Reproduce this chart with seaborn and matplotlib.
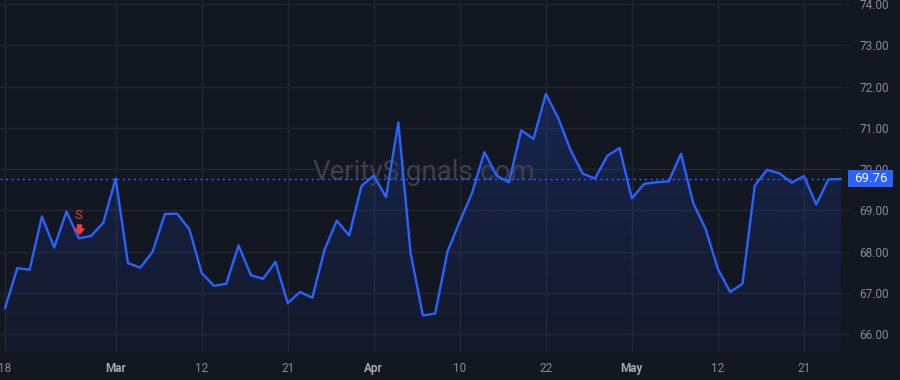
import numpy as np
import pandas as pd
import matplotlib
matplotlib.use("Agg")
import matplotlib.pyplot as plt
import seaborn as sns
from matplotlib.colors import to_rgb
from matplotlib.patches import Polygon, Rectangle
from matplotlib.path import Path
from matplotlib.transforms import blended_transform_factory, offset_copy

# trading days (NYSE, Good Friday and Memorial Day closed)
dates = pd.bdate_range("2025-02-18", "2025-05-27", freq="C",
                       holidays=["2025-04-18", "2025-05-26"])

close = [66.63, 67.60, 67.56, 68.85, 68.10, 68.97, 68.32, 68.38, 68.70, 69.77,
         67.72, 67.61, 67.99, 68.91, 68.92, 68.54, 67.48, 67.17, 67.22, 68.15,
         67.43, 67.34, 67.75, 66.75, 67.02, 66.88, 68.05, 68.75, 68.39, 69.59,
         69.84, 69.32, 71.13, 67.96, 66.45, 66.50, 68.00, 68.73, 69.42, 70.41,
         69.84, 69.68, 70.94, 70.73, 71.82, 71.24, 70.47, 69.89, 69.77, 70.32,
         70.51, 69.29, 69.64, 69.68, 69.70, 70.37, 69.17, 68.55, 67.58, 67.02,
         67.22, 69.60, 69.98, 69.90, 69.67, 69.83, 69.14, 69.75, 69.76]

tick_dates = pd.to_datetime(["2025-02-18", "2025-03-03", "2025-03-12", "2025-03-21",
                             "2025-04-01", "2025-04-10", "2025-04-22", "2025-05-01",
                             "2025-05-12", "2025-05-21"])
month_ticks = ["2025-03-03", "2025-04-01", "2025-05-01"]
y_ticks = [66, 67, 68, 69, 70, 71, 72, 73, 74]

signal_date = pd.Timestamp("2025-02-26")
signal_label = "S"
watermark = "VeritySignals.com"

df = pd.DataFrame({"date": dates, "close": close})
df["pos"] = np.arange(len(df))

bg = "#131722"
grid_c = "#232733"
line_c = "#2962ff"
red = "#f23645"

sns.set_theme(style="dark", rc={"axes.facecolor": bg, "figure.facecolor": bg})
plt.rcParams["font.family"] = ["Roboto", "DejaVu Sans"]

fig = plt.figure(figsize=(9, 3.8), dpi=100)
ax = fig.add_axes([0, 28 / 380, 843 / 900, 352 / 380])
ax.set_facecolor(bg)

ymin, ymax = 65.566, 74.097

# gradient area under the line
verts = [(df["pos"].iloc[0], ymin)] + list(zip(df["pos"], df["close"])) + [(df["pos"].iloc[-1], ymin)]
poly = Polygon(verts, closed=True, facecolor="none", edgecolor="none")
ax.add_patch(poly)
rgba = np.zeros((256, 1, 4))
rgba[..., :3] = to_rgb(line_c)
rgba[..., 3] = np.linspace(0.03, 0.21, 256)[:, None]
im = ax.imshow(rgba, extent=[df["pos"].iloc[0], df["pos"].iloc[-1], ymin, df["close"].max()],
               origin="lower", aspect="auto", zorder=1, interpolation="bilinear")
im.set_clip_path(poly)

ax.text(0.503, 0.511, watermark, transform=ax.transAxes, ha="center", va="center",
        fontsize=20, color="#3d404b", zorder=1.5)

sns.lineplot(data=df, x="pos", y="close", color=line_c, linewidth=1.7, ax=ax, zorder=3)

last = close[-1]
ax.axhline(last, color=line_c, linewidth=1, linestyle=(0, (1.5, 2.5)), zorder=2)

# signal marker: down arrow + letter above the bar
sp = df.loc[df["date"] == signal_date, "pos"].iloc[0]
sv = df.loc[df["date"] == signal_date, "close"].iloc[0]
arrow = Path([(-0.42, 1), (0.42, 1), (0.42, 0.1), (1, 0.1), (0, -1),
              (-1, 0.1), (-0.42, 0.1), (-0.42, 1)], closed=True)
ax.plot([sp], [sv], marker=arrow, markersize=6.6, color=red, linestyle="none",
        transform=offset_copy(ax.transData, fig=fig, x=0, y=9.3, units="dots"), zorder=4)
ax.annotate(signal_label, xy=(sp, sv), xytext=(0, 16.5), textcoords="offset points",
            ha="center", va="center", color=red, fontsize=9.5, zorder=4)

ax.set_xlim(-0.41, 68.18)
ax.set_ylim(ymin, ymax)

# axes styling
tick_pos = [df.loc[df["date"] == d, "pos"].iloc[0] for d in tick_dates]
labels = [d.strftime("%b") if d.strftime("%Y-%m-%d") in month_ticks else str(d.day) for d in tick_dates]
ax.set_xticks(tick_pos)
ax.set_xticklabels(labels)
for lab, d in zip(ax.get_xticklabels(), tick_dates):
    if d.strftime("%Y-%m-%d") in month_ticks:
        lab.set_fontweight("bold")
        lab.set_color("#a3a6af")
    else:
        lab.set_color("#878a93")
ax.tick_params(axis="x", length=0, pad=7, labelsize=8.5)

ax.set_yticks(y_ticks)
ax.set_yticklabels([f"{v:.2f}" for v in y_ticks])
ax.yaxis.tick_right()
ax.tick_params(axis="y", length=4, width=0.8, color=grid_c, pad=8, labelsize=8.5,
               labelcolor="#878a93")

ax.grid(True, color=grid_c, linewidth=0.9)
for s in ax.spines.values():
    s.set_visible(False)
ax.set_xlabel("")
ax.set_ylabel("")

# last price tag
tr = blended_transform_factory(ax.transAxes, ax.transData)
ax.add_patch(Rectangle((848 / 843, last - 0.205), 45 / 843, 0.41, transform=tr,
                       facecolor=line_c, edgecolor="none", clip_on=False, zorder=5))
ax.text(870.5 / 843, last, f"{last:.2f}", transform=tr, ha="center", va="center",
        color="white", fontsize=9.5, zorder=6, clip_on=False)

fig.savefig("out.png", dpi=100, facecolor=bg)
